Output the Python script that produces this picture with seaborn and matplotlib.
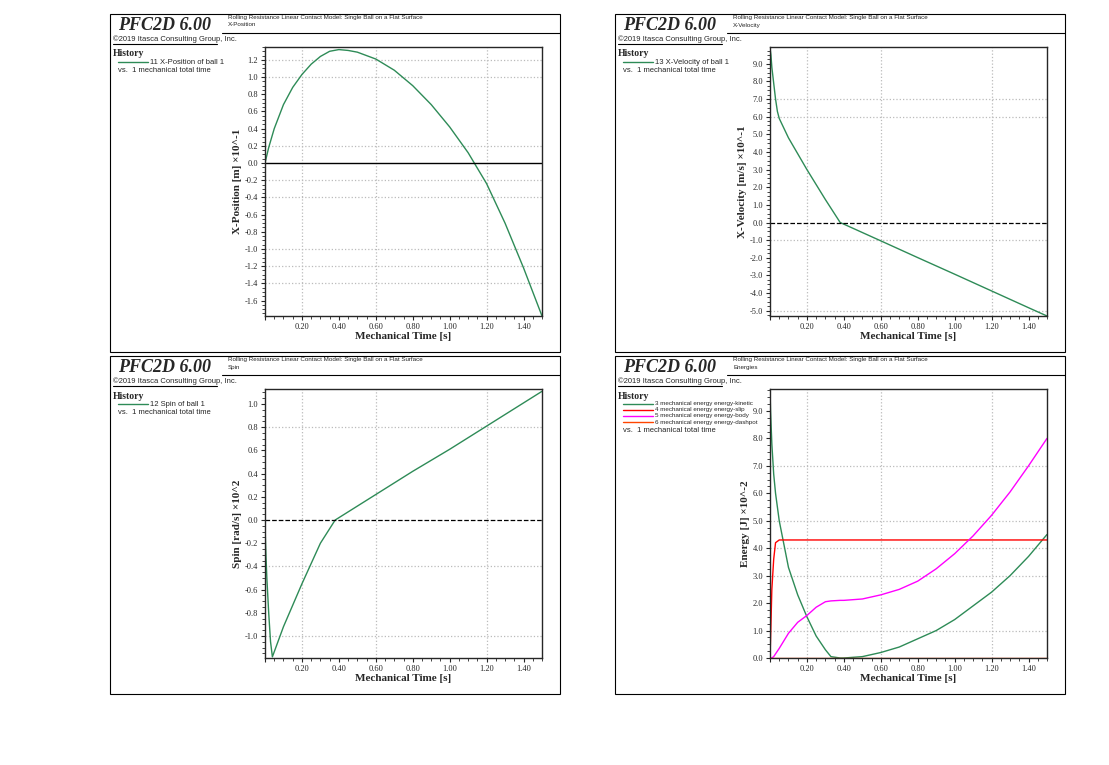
import numpy as np
import pandas as pd
import seaborn as sns
import matplotlib.pyplot as plt
from matplotlib.patches import Rectangle
from matplotlib.lines import Line2D
from matplotlib.ticker import MultipleLocator, FuncFormatter

# ---- data ----
t_pos = [0.0, 0.02, 0.05, 0.1, 0.15, 0.2, 0.25, 0.3, 0.35, 0.4, 0.45, 0.5, 0.6, 0.7, 0.8,
         0.9, 1.0, 1.1, 1.2, 1.3, 1.4, 1.5]
x_pos = [0.0, 0.18, 0.4, 0.68, 0.88, 1.03, 1.15, 1.24, 1.30, 1.32, 1.31, 1.29, 1.21, 1.08, 0.90,
         0.68, 0.42, 0.12, -0.24, -0.70, -1.22, -1.78]

t_vel = [0.0, 0.005, 0.01, 0.02, 0.03, 0.04, 0.05, 0.1, 0.2, 0.3, 0.38, 0.6, 0.8, 1.0, 1.2, 1.4, 1.5]
x_vel = [9.9, 9.5, 8.8, 7.9, 7.0, 6.3, 5.9, 4.8, 3.0, 1.3, 0.0, -1.04, -1.99, -2.93, -3.88, -4.83, -5.3]

t_spin = [0.0, 0.005, 0.01, 0.02, 0.03, 0.04, 0.1, 0.2, 0.3, 0.38, 0.6, 0.8, 1.0, 1.2, 1.4, 1.5]
spin = [-0.05, -0.3, -0.5, -0.8, -1.05, -1.18, -0.92, -0.55, -0.2, 0.0, 0.22, 0.42, 0.61, 0.81, 1.01, 1.11]

t_en = [0.0, 0.003, 0.01, 0.02, 0.03, 0.05, 0.1, 0.15, 0.2, 0.25, 0.3, 0.33, 0.38, 0.4, 0.5, 0.6,
        0.7, 0.8, 0.9, 1.0, 1.1, 1.2, 1.3, 1.4, 1.5]
e_kin = [9.8, 9.0, 7.8, 6.7, 6.0, 5.0, 3.3, 2.3, 1.5, 0.8, 0.3, 0.05, 0.0, 0.0, 0.05, 0.2,
         0.4, 0.7, 1.0, 1.4, 1.9, 2.4, 3.0, 3.7, 4.5]
e_slip = [0.0, 0.7, 2.5, 3.6, 4.2, 4.3, 4.3, 4.3, 4.3, 4.3, 4.3, 4.3, 4.3, 4.3, 4.3, 4.3,
          4.3, 4.3, 4.3, 4.3, 4.3, 4.3, 4.3, 4.3, 4.3]
e_body = [0.0, 0.0, 0.0, 0.05, 0.15, 0.35, 0.9, 1.3, 1.55, 1.85, 2.05, 2.08, 2.1, 2.1, 2.15, 2.3,
          2.5, 2.8, 3.25, 3.8, 4.45, 5.2, 6.05, 7.0, 8.0]
e_dash = [0.0] * len(t_en)

subtitle = "Rolling Resistance Linear Contact Model: Single Ball on a Flat Surface"

sns.set_style("ticks")
plt.rcParams["axes.grid"] = False

W, H = 1109, 765
fig = plt.figure(figsize=(W / 100, H / 100), dpi=100)
serif = "Liberation Serif"
sans = "Liberation Sans"


def fx(px):
    return px / W


def fy(py):
    return 1 - py / H


def panel(x0, y0, name, entries, ylabel):
    x1, y1 = x0 + 450, y0 + 338
    fig.add_artist(Rectangle((fx(x0), fy(y1)), 450 / W, 338 / H, fill=False, lw=0.8,
                             ec="black", transform=fig.transFigure))
    fig.add_artist(Line2D([fx(x0 + 3), fx(x0 + 107)], [fy(y0 + 30)] * 2, lw=0.8, color="black"))
    fig.add_artist(Line2D([fx(x0 + 112), fx(x1)], [fy(y0 + 19)] * 2, lw=0.8, color="black"))
    fig.text(fx(x0 + 55), fy(y0 + 11), "PFC2D 6.00", family=serif, weight="bold", style="italic",
             fontsize=13, ha="center", va="center")
    fig.text(fx(x0 + 3), fy(y0 + 25), "\u00a92019 Itasca Consulting Group, Inc.", family=sans,
             fontsize=5.5, va="center")
    fig.text(fx(x0 + 118), fy(y0 + 4), subtitle, family=sans, fontsize=4.5, va="center")
    fig.text(fx(x0 + 118), fy(y0 + 11), name, family=sans, fontsize=4.5, va="center")
    fig.text(fx(x0 + 3), fy(y0 + 40), "History", family=serif, weight="bold", fontsize=7, va="center")
    for i, (lab, col) in enumerate(entries):
        yy = y0 + 48 + i * 6
        fig.add_artist(Line2D([fx(x0 + 8), fx(x0 + 38)], [fy(yy)] * 2, lw=1, color=col))
        fig.text(fx(x0 + 40), fy(yy), lab, family=sans, fontsize=4.5 if len(entries) > 1 else 5.5,
                 va="center")
    yy = y0 + 48 + len(entries) * 6 + 2
    fig.text(fx(x0 + 8), fy(yy), "vs.  1 mechanical total time", family=sans, fontsize=5.5, va="center")

    ax = fig.add_axes([fx(x0 + 155), fy(y0 + 302), 277 / W, 269 / H])
    ax.set_xlim(0, 1.5)
    ax.xaxis.set_major_locator(MultipleLocator(0.2))
    ax.xaxis.set_minor_locator(MultipleLocator(0.05))
    ax.xaxis.set_major_formatter(FuncFormatter(lambda v, p: "" if abs(v) < 1e-9 else f"{v:.2f}"))
    ax.set_xlabel("Mechanical Time [s]", family=serif, weight="bold", fontsize=8, labelpad=1)
    ax.set_ylabel(ylabel, family=serif, weight="bold", fontsize=8, labelpad=2)
    ax.tick_params(labelsize=6, length=3, width=0.8, pad=2)
    ax.tick_params(which="minor", length=2)
    for lb in ax.get_xticklabels() + ax.get_yticklabels():
        lb.set_family(serif)
    for s in ax.spines.values():
        s.set_linewidth(1)
    return ax


def grid(ax, xs, ys):
    ax.grid(False, which="both")
    ax.tick_params(which="both", grid_alpha=0)
    for v in xs:
        ax.axvline(v, color="#bbbbbb", ls=":", lw=0.9, zorder=0)
    for v in ys:
        ax.axhline(v, color="#bbbbbb", ls=":", lw=0.9, zorder=0)


green = "#2e8b57"

# top left: position
ax = panel(110, 14, "X-Position", [("11 X-Position of ball 1", green)], "X-Position [m] \u00d710^-1")
sns.lineplot(x=t_pos, y=x_pos, ax=ax, color=green, lw=1)
ax.set_ylim(-1.78, 1.35)
ax.yaxis.set_major_locator(MultipleLocator(0.2))
ax.yaxis.set_minor_locator(MultipleLocator(0.05))
ax.yaxis.set_major_formatter(FuncFormatter(lambda v, p: f"{v:.1f}"))
grid(ax, [0.2, 0.6, 1.2], [1.2, 1.0, 0.2, -0.2, -0.4, -1.0, -1.2, -1.4])
ax.axhline(0, color="black", lw=1)

# top right: velocity
ax = panel(615, 14, "X-Velocity", [("13 X-Velocity of ball 1", green)], "X-Velocity [m/s] \u00d710^-1")
sns.lineplot(x=t_vel, y=x_vel, ax=ax, color=green, lw=1)
ax.set_ylim(-5.3, 9.95)
ax.yaxis.set_major_locator(MultipleLocator(1.0))
ax.yaxis.set_minor_locator(MultipleLocator(0.25))
ax.yaxis.set_major_formatter(FuncFormatter(lambda v, p: f"{v:.1f}"))
grid(ax, [0.2, 0.6, 1.2], [7.0, 6.0, -1.0, -5.0])
ax.axhline(0, color="black", lw=0.9, ls="--")

# bottom left: spin
ax = panel(110, 356, "Spin", [("12 Spin of ball 1", green)], "Spin [rad/s] \u00d710^2")
sns.lineplot(x=t_spin, y=spin, ax=ax, color=green, lw=1)
ax.set_ylim(-1.19, 1.13)
ax.yaxis.set_major_locator(MultipleLocator(0.2))
ax.yaxis.set_minor_locator(MultipleLocator(0.05))
ax.yaxis.set_major_formatter(FuncFormatter(lambda v, p: f"{v:.1f}"))
grid(ax, [0.2, 0.6, 1.2], [0.8, -0.4, -1.0])
ax.axhline(0, color="black", lw=0.9, ls="--")

# bottom right: energies
ents = [("3 mechanical energy energy-kinetic", green),
        ("4 mechanical energy energy-slip", "red"),
        ("5 mechanical energy energy-body", "magenta"),
        ("6 mechanical energy energy-dashpot", "orangered")]
ax = panel(615, 356, "Energies", ents, "Energy [J] \u00d710^-2")
for series, (lab, col) in zip([e_kin, e_slip, e_body, e_dash], ents):
    sns.lineplot(x=t_en, y=series, ax=ax, color=col, lw=1)
ax.set_ylim(0, 9.8)
ax.yaxis.set_major_locator(MultipleLocator(1.0))
ax.yaxis.set_minor_locator(MultipleLocator(0.25))
ax.yaxis.set_major_formatter(FuncFormatter(lambda v, p: f"{v:.1f}"))
grid(ax, [0.2, 0.6, 1.2], [7.0, 5.0, 4.0, 3.0, 1.0])

for a in fig.axes:
    for gl in a.get_xgridlines() + a.get_ygridlines():
        gl.set_visible(False)

fig.savefig("out.png", dpi=100)
